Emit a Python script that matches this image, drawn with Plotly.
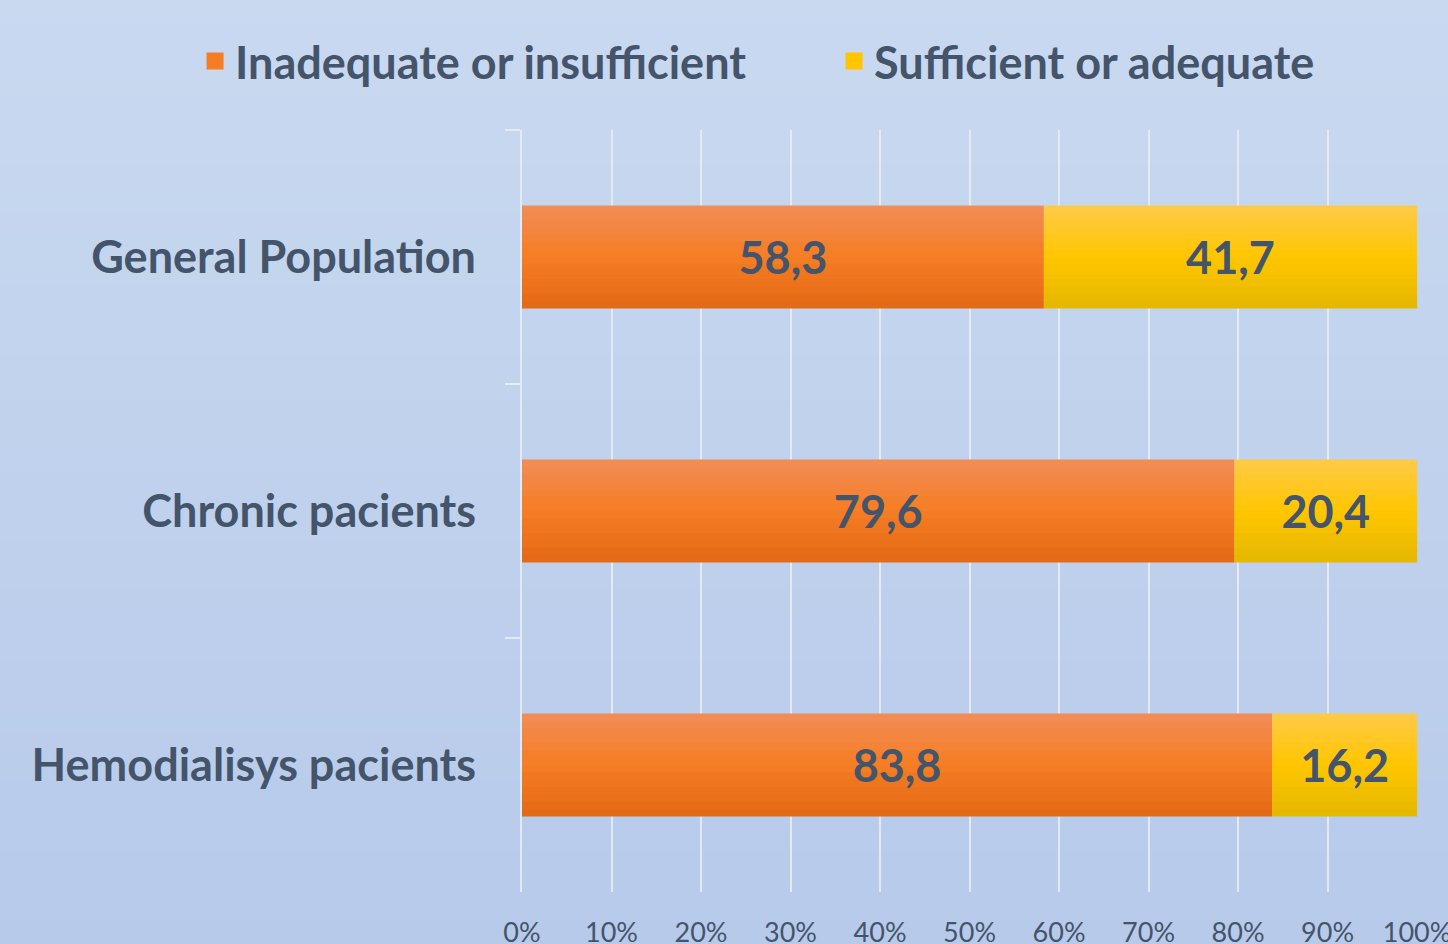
import plotly.graph_objects as go

categories = ["General Population", "Chronic pacients", "Hemodialisys pacients"]
inadequate = [58.3, 79.6, 83.8]
sufficient = [41.7, 20.4, 16.2]
series_names = ["Inadequate or insufficient", "Sufficient or adequate"]
x_ticks = [0, 10, 20, 30, 40, 50, 60, 70, 80, 90, 100]
x_tick_labels = [f"{t}%" for t in x_ticks]

TEXT = "#44546A"
W, H = 1448, 944
ML, MR, MT, MB = 522, 30, 130, 52
FS = 45

# gradient stops (top, middle, bottom)
orange_stops = [(241, 141, 88), (245, 125, 35), (228, 104, 20)]
yellow_stops = [(255, 202, 72), (255, 198, 0), (228, 183, 0)]


def lerp(a, b, t):
    return tuple(round(a[i] + (b[i] - a[i]) * t) for i in range(3))


def grad(stops, t):
    if t <= 0.5:
        return lerp(stops[0], stops[1], t / 0.5)
    return lerp(stops[1], stops[2], (t - 0.5) / 0.5)


def rgb(c):
    return f"rgb({c[0]},{c[1]},{c[2]})"


fig = go.Figure()

BAR_W = 0.405
N = 14
band = BAR_W / N
series = [(inadequate, [0, 0, 0], orange_stops, series_names[0], "legend"),
          (sufficient, inadequate, yellow_stops, series_names[1], "legend2")]
for vals, base, stops, name, leg in series:
    for i in range(N):
        t = (i + 0.5) / N
        w = band * 1.6 if i < N - 1 else band
        fig.add_trace(go.Bar(
            y=categories, x=[v / 100 for v in vals], base=[b / 100 for b in base],
            orientation="h", width=w, offset=-BAR_W / 2 + i * band,
            marker=dict(color=rgb(grad(stops, t)), line=dict(width=0)),
            name=name, showlegend=False, legendgroup=name,
            hoverinfo="skip",
        ))
    # transparent full bar carrying the value label
    fig.add_trace(go.Bar(
        y=categories, x=[v / 100 for v in vals], base=[b / 100 for b in base],
        orientation="h", width=BAR_W,
        marker=dict(color="rgba(0,0,0,0)", line=dict(width=0)),
        text=[f"{v:.1f}".replace(".", ",") for v in vals],
        textposition="inside", insidetextanchor="middle", constraintext="none",
        textangle=0,
        insidetextfont=dict(family="Lato", size=FS, color=TEXT, weight="bold"),
        showlegend=False, hoverinfo="skip",
    ))
    # legend carrier (no drawn bar)
    fig.add_trace(go.Bar(
        y=[categories[0]], x=[None], orientation="h",
        marker=dict(color=rgb(stops[1]), line=dict(width=6, color=rgb(stops[1]))),
        name=name, showlegend=True, legend=leg, hoverinfo="skip",
    ))

# background vertical gradient
shapes = []
top_c, bot_c = (201, 217, 240), (183, 202, 234)
NS = 40
for k in range(NS):
    py0 = H * k / NS
    py1 = H * (k + 1) / NS + 1
    c = lerp(top_c, bot_c, (k + 0.5) / NS)
    shapes.append(dict(
        type="rect", xref="paper", yref="paper", layer="below",
        x0=-1, x1=2,
        y0=(H - MB - py1) / (H - MT - MB), y1=(H - MB - py0) / (H - MT - MB),
        fillcolor=rgb(c), line=dict(width=0),
    ))

legend_common = dict(
    orientation="h", xref="container", yref="container",
    xanchor="left", y=0.935, yanchor="middle",
    font=dict(family="Lato", size=FS, color=TEXT, weight="bold"),
    bgcolor="rgba(0,0,0,0)", itemclick=False, itemdoubleclick=False,
)

fig.update_layout(
    width=W, height=H,
    margin=dict(l=ML, r=MR, t=MT, b=MB, autoexpand=False),
    paper_bgcolor="rgb(192,210,236)",
    plot_bgcolor="rgba(0,0,0,0)",
    barmode="overlay",
    shapes=shapes,
    showlegend=True,
    legend=dict(x=0.1347, **legend_common),
    legend2=dict(x=0.5760, **legend_common),
    font=dict(family="Lato", color=TEXT),
)

fig.update_xaxes(
    range=[0, 1.001], tickvals=[t / 100 for t in x_ticks], ticktext=x_tick_labels,
    showgrid=True, gridcolor="rgba(230,236,245,0.9)", gridwidth=1.5,
    zeroline=False, showline=False, ticks="", automargin=False,
    tickfont=dict(family="Lato", size=27, color=TEXT),
    ticklabelstandoff=22, ticklabeloverflow="allow",
)
fig.update_yaxes(
    type="category", categoryorder="array", categoryarray=categories,
    autorange="reversed", automargin=False,
    showgrid=False, zeroline=False,
    showline=True, linecolor="rgba(230,236,245,0.9)", linewidth=2,
    ticks="outside", ticklen=15, tickcolor="rgba(230,236,245,0.9)", tickwidth=2,
    tickson="boundaries",
    tickfont=dict(family="Lato", size=FS, color=TEXT, weight="bold"),
    ticklabelstandoff=35,
)

fig.write_html("out.html", config={"displayModeBar": False},
               post_script="document.body.style.margin='0';")
